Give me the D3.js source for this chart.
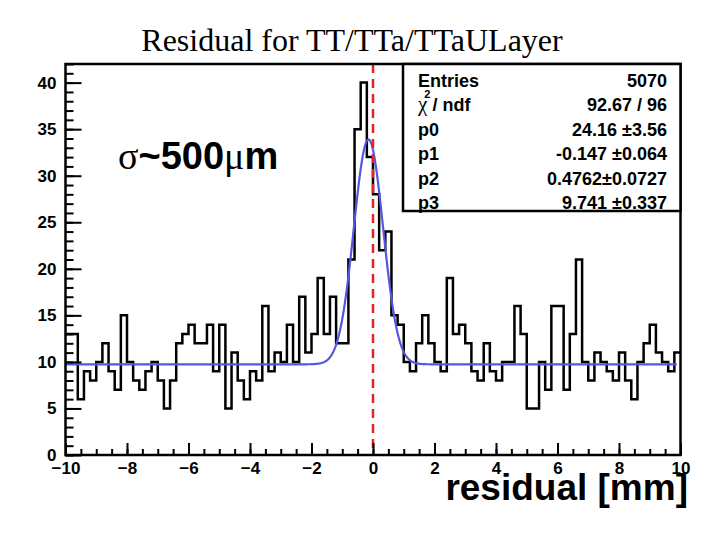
<!DOCTYPE html>
<html>
<head>
<meta charset="utf-8">
<script src="https://cdn.jsdelivr.net/npm/d3@7"></script>
<style>
  body { margin: 0; background: #fff; }
  text { font-family: "Liberation Sans", Arial, sans-serif; }
</style>
</head>
<body>
<div id="chart"></div>
<script>
// histogram: 100 bins from -10 to 10
var binLow = -10, binHigh = 10, nBins = 100;
var counts = [
  13, 13, 6, 9, 8, 10, 12, 9, 7, 15,
  10, 8, 7, 9, 10, 8, 5, 8, 12, 13,
  14, 12, 12, 14, 9, 14, 5, 11, 8, 6,
  9, 8, 16, 9, 11, 10, 14, 10, 17, 11,
  13, 19, 13, 17, 12, 12, 21, 35, 40, 32,
  28, 22, 24, 15, 14, 10, 9, 12, 15, 12,
  10, 9, 19, 13, 14, 12, 9, 8, 12, 9,
  8, 10, 10, 16, 13, 5, 5, 10, 7, 16,
  16, 7, 13, 21, 10, 8, 11, 10, 9, 8,
  11, 8, 6, 10, 12, 14, 11, 10, 9, 11
];

// fit parameters (gaus + const) as shown in the stats box
var fitParams = [24.16, -0.147, 0.4762, 9.741];
var statsLabels = ["Entries", "chi2", "p0", "p1", "p2", "p3"];
var statsValues = ["5070", "92.67 / 96", "24.16 \u00b13.56", "-0.147 \u00b10.064",
                   "0.4762\u00b10.0727", "9.741 \u00b10.337"];

var yTickValues = [0, 5, 10, 15, 20, 25, 30, 35, 40];
var xTickValues = [-10, -8, -6, -4, -2, 0, 2, 4, 6, 8, 10];

var W = 722, H = 545;
var margin = {top: 64, right: 41.5, bottom: 90, left: 65.5};

var svg = d3.select("#chart").append("svg")
    .attr("width", W)
    .attr("height", H);

var x = d3.scaleLinear().domain([binLow, binHigh]).range([margin.left, W - margin.right]);
var y = d3.scaleLinear().domain([0, 42]).range([H - margin.bottom, margin.top]);

// title
svg.append("text")
    .attr("x", 352)
    .attr("y", 51)
    .attr("text-anchor", "middle")
    .style("font-family", "'Liberation Serif', 'Times New Roman', serif")
    .style("font-size", "32px")
    .text("Residual for TT/TTa/TTaULayer");

// histogram outline
var binW = (binHigh - binLow) / nBins;
var pts = counts.map(function(c, i) { return [binLow + i * binW, c]; });
pts.push([binHigh, counts[counts.length - 1]]);
var step = d3.line()
    .x(function(d) { return x(d[0]); })
    .y(function(d) { return y(d[1]); })
    .curve(d3.curveStepAfter);
svg.append("path")
    .attr("d", step(pts))
    .attr("fill", "none")
    .attr("stroke", "black")
    .attr("stroke-width", 2.5);

// fit function
function fitFn(v) {
    var t = (v - fitParams[1]) / fitParams[2];
    return fitParams[0] * Math.exp(-0.5 * t * t) + fitParams[3];
}
var fitX = d3.range(binLow, 9.9, 0.02);
var fitLine = d3.line()
    .x(function(d) { return x(d); })
    .y(function(d) { return y(fitFn(d)); });
svg.append("path")
    .attr("d", fitLine(fitX))
    .attr("fill", "none")
    .attr("stroke", "#5656e0")
    .attr("stroke-width", 2.2);

// red dashed line at zero
svg.append("line")
    .attr("x1", x(0)).attr("x2", x(0))
    .attr("y1", y(42)).attr("y2", y(0))
    .attr("stroke", "#e8202a")
    .attr("stroke-width", 2.5)
    .attr("stroke-dasharray", "9,6");

// Y axis (ticks inside the frame)
svg.append("g")
    .attr("transform", "translate(" + margin.left + ",0)")
    .call(d3.axisLeft(y).tickValues(d3.range(0, 43, 1)).tickSizeInner(-8).tickSizeOuter(0).tickFormat(""))
    .call(function(g) { g.select(".domain").remove(); g.selectAll("line").attr("stroke-width", 2); });
svg.append("g")
    .attr("transform", "translate(" + margin.left + ",0)")
    .call(d3.axisLeft(y).tickValues(yTickValues).tickSizeInner(-16).tickSizeOuter(0).tickPadding(9))
    .call(function(g) {
        g.select(".domain").remove();
        g.selectAll("line").attr("stroke-width", 2);
        g.selectAll("text").style("font-size", "17px").style("font-weight", "bold")
            .style("font-family", "'Liberation Sans', Arial, sans-serif");
    });

// X axis
svg.append("g")
    .attr("transform", "translate(0," + y(0) + ")")
    .call(d3.axisBottom(x).tickValues(d3.range(-10, 10.01, 0.5)).tickSizeInner(-6).tickSizeOuter(0).tickFormat(""))
    .call(function(g) { g.select(".domain").remove(); g.selectAll("line").attr("stroke-width", 2); });
svg.append("g")
    .attr("transform", "translate(0," + y(0) + ")")
    .call(d3.axisBottom(x).tickValues(xTickValues).tickSizeInner(-12).tickSizeOuter(0).tickPadding(7))
    .call(function(g) {
        g.select(".domain").remove();
        g.selectAll("line").attr("stroke-width", 2);
        g.selectAll("text").style("font-size", "17px").style("font-weight", "bold")
            .style("font-family", "'Liberation Sans', Arial, sans-serif");
    });

// frame
svg.append("rect")
    .attr("x", x(binLow)).attr("y", y(42))
    .attr("width", x(binHigh) - x(binLow))
    .attr("height", y(0) - y(42))
    .attr("fill", "none")
    .attr("stroke", "black")
    .attr("stroke-width", 2.5);

// stats box
var box = svg.append("g");
box.append("rect")
    .attr("x", 403).attr("y", y(42))
    .attr("width", x(binHigh) - 403)
    .attr("height", 147)
    .attr("fill", "white")
    .attr("stroke", "black")
    .attr("stroke-width", 2.5);
statsLabels.forEach(function(lab, i) {
    var by = 87 + i * 24.4;
    var t = box.append("text")
        .attr("x", 418).attr("y", by)
        .style("font-size", "18px").style("font-weight", "bold");
    if (lab === "chi2") {
        t.append("tspan").style("font-family", "'Liberation Serif', serif").style("font-weight", "normal")
            .style("font-size", "21px").text("\u03c7");
        t.append("tspan").attr("dx", -3).attr("dy", -13).style("font-size", "11px").text("2");
        t.append("tspan").attr("dx", 2).attr("dy", 13).text("/ ndf");
    } else {
        t.text(lab);
    }
    box.append("text")
        .attr("x", 667).attr("y", by)
        .attr("text-anchor", "end")
        .style("font-size", "18px").style("font-weight", "bold")
        .text(statsValues[i]);
});

// sigma annotation
var sig = svg.append("text")
    .attr("x", 118).attr("y", 169)
    .style("font-size", "38px").style("font-weight", "bold");
sig.append("tspan").style("font-family", "'Liberation Serif', serif").style("font-weight", "normal").text("\u03c3");
sig.append("tspan").text("~500");
sig.append("tspan").style("font-family", "'Liberation Serif', serif").style("font-weight", "normal").text("\u03bc");
sig.append("tspan").text("m");

// x axis title
svg.append("text")
    .attr("x", 688).attr("y", 500)
    .attr("text-anchor", "end")
    .style("font-size", "37px").style("font-weight", "bold")
    .text("residual [mm]");
</script>
</body>
</html>
